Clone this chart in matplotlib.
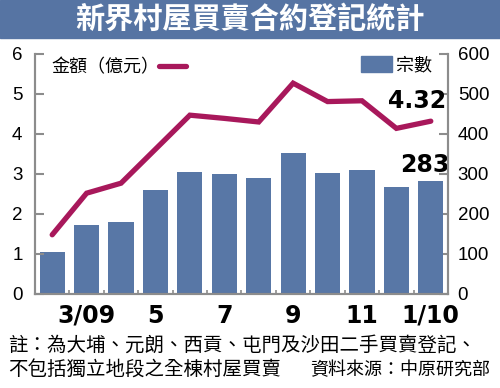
import numpy as np
import matplotlib
matplotlib.use("Agg")
import matplotlib.pyplot as plt
from matplotlib.lines import Line2D
from matplotlib.patches import Patch, Rectangle

# data
months = ["2/09", "3/09", "4/09", "5/09", "6/09", "7/09",
          "8/09", "9/09", "10/09", "11/09", "12/09", "1/10"]
amount = [1.48, 2.52, 2.77, 3.62, 4.47, 4.39, 4.30, 5.27, 4.81, 4.83, 4.14, 4.32]
deals = [106, 172, 180, 261, 305, 299, 290, 353, 302, 309, 268, 283]
tick_labels = ["3/09", "5", "7", "9", "11", "1/10"]

title = "新界村屋買賣合約登記統計"
note1 = "註：為大埔、元朗、西貢、屯門及沙田二手買賣登記、"
note2 = "不包括獨立地段之全棟村屋買賣"
source = "資料來源：中原研究部"

bar_color = "#5877a6"
line_color = "#a8185b"
axis_gray = "#8c8c8c"
cjk = ["Noto Sans CJK TC", "DejaVu Sans"]
narrow = ["Liberation Sans Narrow", "DejaVu Sans"]

plt.rcParams["font.family"] = ["Liberation Sans", "Noto Sans CJK TC"]

fig = plt.figure(figsize=(5, 3.88), dpi=100)
ax = fig.add_axes([0.07, 0.2423, 0.826, 0.6186])
ax2 = ax.twinx()
ax.set_zorder(ax2.get_zorder() + 1)
ax.patch.set_visible(False)

x = np.arange(len(months))

# bars on the right axis
ax2.bar(x, deals, width=0.73, color=bar_color, zorder=2)
ax2.set_ylim(0, 600)
ax2.set_yticks(np.arange(0, 601, 100))

# line on the left axis
ax.plot(x, amount, color=line_color, lw=3.8, solid_capstyle="round",
        solid_joinstyle="miter")
ax.set_ylim(0, 6)
ax.set_yticks(np.arange(0, 7, 1))
ax.set_xlim(-0.5, len(months) - 0.5)

ax.set_xticks(x[1::2])
ax.set_xticklabels(tick_labels, family=narrow, fontweight="bold", fontsize=17)
ax.set_xticks(x[:-1] + 0.5, minor=True)
ax.tick_params(axis="x", which="major", length=0, pad=7)
ax.tick_params(axis="x", which="minor", direction="in", length=3,
               color=axis_gray, width=1.2)
ax.tick_params(axis="y", direction="in", length=6.5, width=1.5,
               color=axis_gray, labelsize=13.5, pad=9)
ax2.tick_params(axis="y", direction="in", length=6.5, width=1.5,
                color=axis_gray, labelsize=13.5, pad=7)

for a in (ax, ax2):
    a.spines["top"].set_visible(False)
    for s in ("left", "right", "bottom"):
        a.spines[s].set_color(axis_gray)
        a.spines[s].set_linewidth(1.5)

# value labels for the last month
ax.annotate(f"{amount[-1]:.2f}", xy=(x[-1], amount[-1]), xytext=(-10, 6),
            textcoords="offset points", ha="center", va="bottom",
            family=narrow, fontweight="bold", fontsize=17)
ax2.annotate(f"{deals[-1]}", xy=(x[-1], deals[-1]), xytext=(-4, 3),
             textcoords="offset points", ha="center", va="bottom",
             family=narrow, fontweight="bold", fontsize=17)

# legends
leg1 = ax.legend(handles=[Line2D([], [], color=line_color, lw=3.8,
                                 solid_capstyle="round")],
                 labels=["金額（億元）"], loc="upper left",
                 bbox_to_anchor=(0.0, 1.05), markerfirst=False,
                 frameon=False, handlelength=1.5, handletextpad=0.0,
                 prop={"family": cjk, "size": 13})
leg2 = ax2.legend(handles=[Patch(color=bar_color)], labels=["宗數"],
                  loc="upper right", bbox_to_anchor=(1.0, 1.06),
                  frameon=False, handlelength=1.7, handleheight=1.0,
                  handletextpad=0.2, prop={"family": cjk, "size": 13})

# title band
fig.patches.append(Rectangle((0, 0.902), 1, 0.098, transform=fig.transFigure,
                             color="#5674a3", zorder=0))
fig.text(0.5, 0.951, title, color="white", ha="center", va="center",
         family=cjk, fontweight="bold", fontsize=21)

# footnotes
fig.text(0.016, 0.111, note1, ha="left", va="center", family=cjk, fontsize=14)
fig.text(0.016, 0.046, note2, ha="left", va="center", family=cjk, fontsize=14)
fig.text(0.98, 0.046, source, ha="right", va="center", family=cjk,
         fontsize=13, fontweight="light")

fig.savefig("out.png", dpi=100)
